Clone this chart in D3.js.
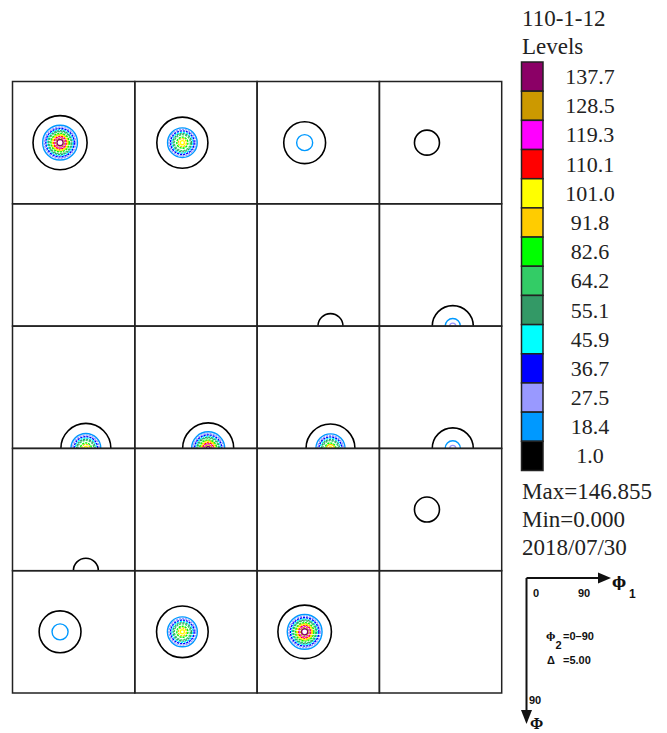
<!DOCTYPE html>
<html>
<head>
<meta charset="utf-8">
<script src="https://cdn.jsdelivr.net/npm/d3@7"></script>
<style>
  body { margin: 0; background: #fff; }
  svg { display: block; }
</style>
</head>
<body>
<svg id="chart" width="667" height="733"></svg>
<script>
// ODF sections, phi2 = 0..90 step 5 (degrees)
const title = "110-1-12";
const levels = [1.0, 18.4, 27.5, 36.7, 45.9, 55.1, 64.2, 82.6, 91.8, 101.0, 110.1, 119.3, 128.5, 137.7];
const levelColors = ["#000000", "#0099ff", "#9999ff", "#0000ff", "#00ffff", "#339966", "#33cc66",
  "#00ff00", "#ffcc00", "#ffff00", "#ff0000", "#ff00ff", "#cc9900", "#8b0066"];
const phi2 = [0, 5, 10, 15, 20, 25, 30, 35, 40, 45, 50, 55, 60, 65, 70, 75, 80, 85, 90];
// peak position inside each section (phi1, PHI), null = no contour
const peakPhi1 = [35, 35, 35, 35, null, null, 54, 54, 54, 54, 54, 54, 54, null, null, 35, 35, 35, 35];
const peakPHI = [45, 45, 45, 45, null, null, 90, 90, 90, 90, 90, 90, 90, null, null, 45, 45, 45, 45];
// contour radius (deg) for each level, lowest level first
const ringRadius = [
  [19.9, 12.8, 11.5, 10.5, 9.6, 8.8, 8.1, 6.8, 6.1, 5.4, 4.8, 4.1, 3.3, 2.3],
  [18.8, 10.9, 9.8, 8.7, 7.7, 6.8, 5.9, 4.1, 3.0, 1.5],
  [15.4, 5.9],
  [9.2],
  [],
  [],
  [9.2],
  [15.1, 5.6, 2.2],
  [18.4, 11.0, 9.8, 8.7, 7.7, 6.8, 5.9, 4.1, 3.0, 1.4],
  [18.8, 12.2, 11.0, 10.0, 9.1, 8.3, 7.6, 6.3, 5.6, 4.9, 4.2, 3.5, 2.6, 1.4],
  [18.0, 10.7, 9.5, 8.5, 7.5, 6.6, 5.7, 4.0, 2.9, 1.2],
  [15.1, 5.6, 2.2],
  [9.2],
  [],
  [],
  [9.2],
  [15.4, 5.9],
  [19.0, 11.0, 9.8, 8.7, 7.7, 6.8, 5.9, 4.1, 3.0, 1.5],
  [19.7, 12.8, 11.5, 10.5, 9.6, 8.8, 8.1, 6.8, 6.1, 5.4, 4.8, 4.1, 3.3, 2.3]
];
const statsText = ["Max=146.855", "Min=0.000", "2018/07/30"];

const svg = d3.select("#chart");
const cols = 4, rows = 5;
const gridLeft = 12.5, gridTop = 81.5, cell = 122.3;

const colScale = d3.scaleBand().domain(d3.range(cols)).range([gridLeft, gridLeft + cols * cell]);
const rowScale = d3.scaleBand().domain(d3.range(rows)).range([gridTop, gridTop + rows * cell]);
const rScale = d3.scaleLinear().domain([0, 90]).range([0, cell]);

const defs = svg.append("defs");
const plot = svg.append("g");

phi2.forEach((p, i) => {
  const cx0 = colScale(i % cols), cy0 = rowScale(Math.floor(i / cols));
  const x = d3.scaleLinear().domain([0, 90]).range([cx0, cx0 + cell]);
  const y = d3.scaleLinear().domain([0, 90]).range([cy0, cy0 + cell]);
  defs.append("clipPath").attr("id", "clip" + i)
    .append("rect").attr("x", cx0).attr("y", cy0).attr("width", cell).attr("height", cell);
  if (peakPhi1[i] == null) return;
  const rings = ringRadius[i].map((r, k) => ({ r, k })).reverse();
  plot.append("g").attr("clip-path", `url(#clip${i})`)
    .selectAll("circle")
    .data(rings)
    .join("circle")
    .attr("cx", x(peakPhi1[i]))
    .attr("cy", y(peakPHI[i]))
    .attr("r", (d) => rScale(d.r))
    .attr("fill", "none")
    .attr("stroke", (d) => levelColors[d.k])
    .attr("stroke-width", (d) => (d.k === 0 ? 1.6 : 1.4))
    .attr("stroke-dasharray", (d) => (d.k < 2 || d.r < 3 ? null : "2.2,0.9"));
});

// grid of sections
plot.append("g")
  .selectAll("rect")
  .data(d3.range(cols * rows))
  .join("rect")
  .attr("x", (d) => colScale(d % cols))
  .attr("y", (d) => rowScale(Math.floor(d / cols)))
  .attr("width", cell)
  .attr("height", cell)
  .attr("fill", "none")
  .attr("stroke", "#222")
  .attr("stroke-width", 1.5);

// legend
const serif = "'Liberation Serif', 'Times New Roman', serif";
const sans = "'Liberation Sans', Arial, sans-serif";
const legend = svg.append("g").attr("font-family", serif).attr("fill", "#222");

legend.append("text").attr("x", 522).attr("y", 26).attr("font-size", 23).text(title);
legend.append("text").attr("x", 522).attr("y", 54).attr("font-size", 23).text("Levels");

const legendLevels = levels.slice().reverse();
const ly = d3.scaleBand().domain(legendLevels).range([62, 470.5]);
const colorOf = d3.scaleOrdinal().domain(levels).range(levelColors);

legend.append("g")
  .selectAll("rect")
  .data(legendLevels)
  .join("rect")
  .attr("x", 521.5)
  .attr("y", (d) => ly(d))
  .attr("width", 21.5)
  .attr("height", ly.bandwidth())
  .attr("fill", (d) => colorOf(d))
  .attr("stroke", "#222")
  .attr("stroke-width", 1.5);

legend.append("g")
  .selectAll("text")
  .data(legendLevels)
  .join("text")
  .attr("x", 590)
  .attr("y", (d) => ly(d) + ly.bandwidth() / 2 + 7.5)
  .attr("text-anchor", "middle")
  .attr("font-size", 22)
  .text((d) => d.toFixed(1));

legend.append("g")
  .selectAll("text")
  .data(statsText)
  .join("text")
  .attr("x", 522)
  .attr("y", (d, i) => 499 + i * 28)
  .attr("font-size", 23)
  .text((d) => d);

// axis key
const key = svg.append("g").attr("fill", "#111");
const ox = 526.5, oy = 578;
key.append("path")
  .attr("d", `M${ox},${oy}H${600}`)
  .attr("stroke", "#111").attr("stroke-width", 2);
key.append("path").attr("d", `M${598},${oy - 5.5}L${611},${oy}L${598},${oy + 5.5}Z`);
key.append("path")
  .attr("d", `M${ox},${oy}V${712}`)
  .attr("stroke", "#111").attr("stroke-width", 2);
key.append("path").attr("d", `M${ox - 5.5},${710}L${ox},${724}L${ox + 5.5},${710}Z`);

const small = key.append("g").attr("font-family", sans).attr("font-weight", "bold").attr("font-size", 11);
small.append("text").attr("x", 533).attr("y", 597).text("0");
small.append("text").attr("x", 578).attr("y", 597).text("90");
small.append("text").attr("x", 529).attr("y", 704).text("90");

key.append("text").attr("x", 612).attr("y", 587).attr("font-family", "'DejaVu Serif', serif")
  .attr("font-weight", "bold").attr("font-size", 15).text("ϕ");
key.append("text").attr("x", 629).attr("y", 598).attr("font-family", sans).attr("font-size", 12).attr("font-weight", "bold").text("1");
key.append("text").attr("x", 530).attr("y", 729).attr("font-family", serif).attr("font-weight", "bold").attr("font-size", 16).text("Φ");

const note = key.append("g").attr("font-family", sans).attr("font-weight", "bold").attr("font-size", 11);
note.append("text").attr("x", 546).attr("y", 639).attr("font-family", "'DejaVu Serif', serif").attr("font-size", 10).text("ϕ");
note.append("text").attr("x", 555.5).attr("y", 649).text("2");
note.append("text").attr("x", 563).attr("y", 640).text("=0–90");
note.append("text").attr("x", 547).attr("y", 664).text("Δ");
note.append("text").attr("x", 563).attr("y", 664).text("=5.00");
</script>
</body>
</html>
